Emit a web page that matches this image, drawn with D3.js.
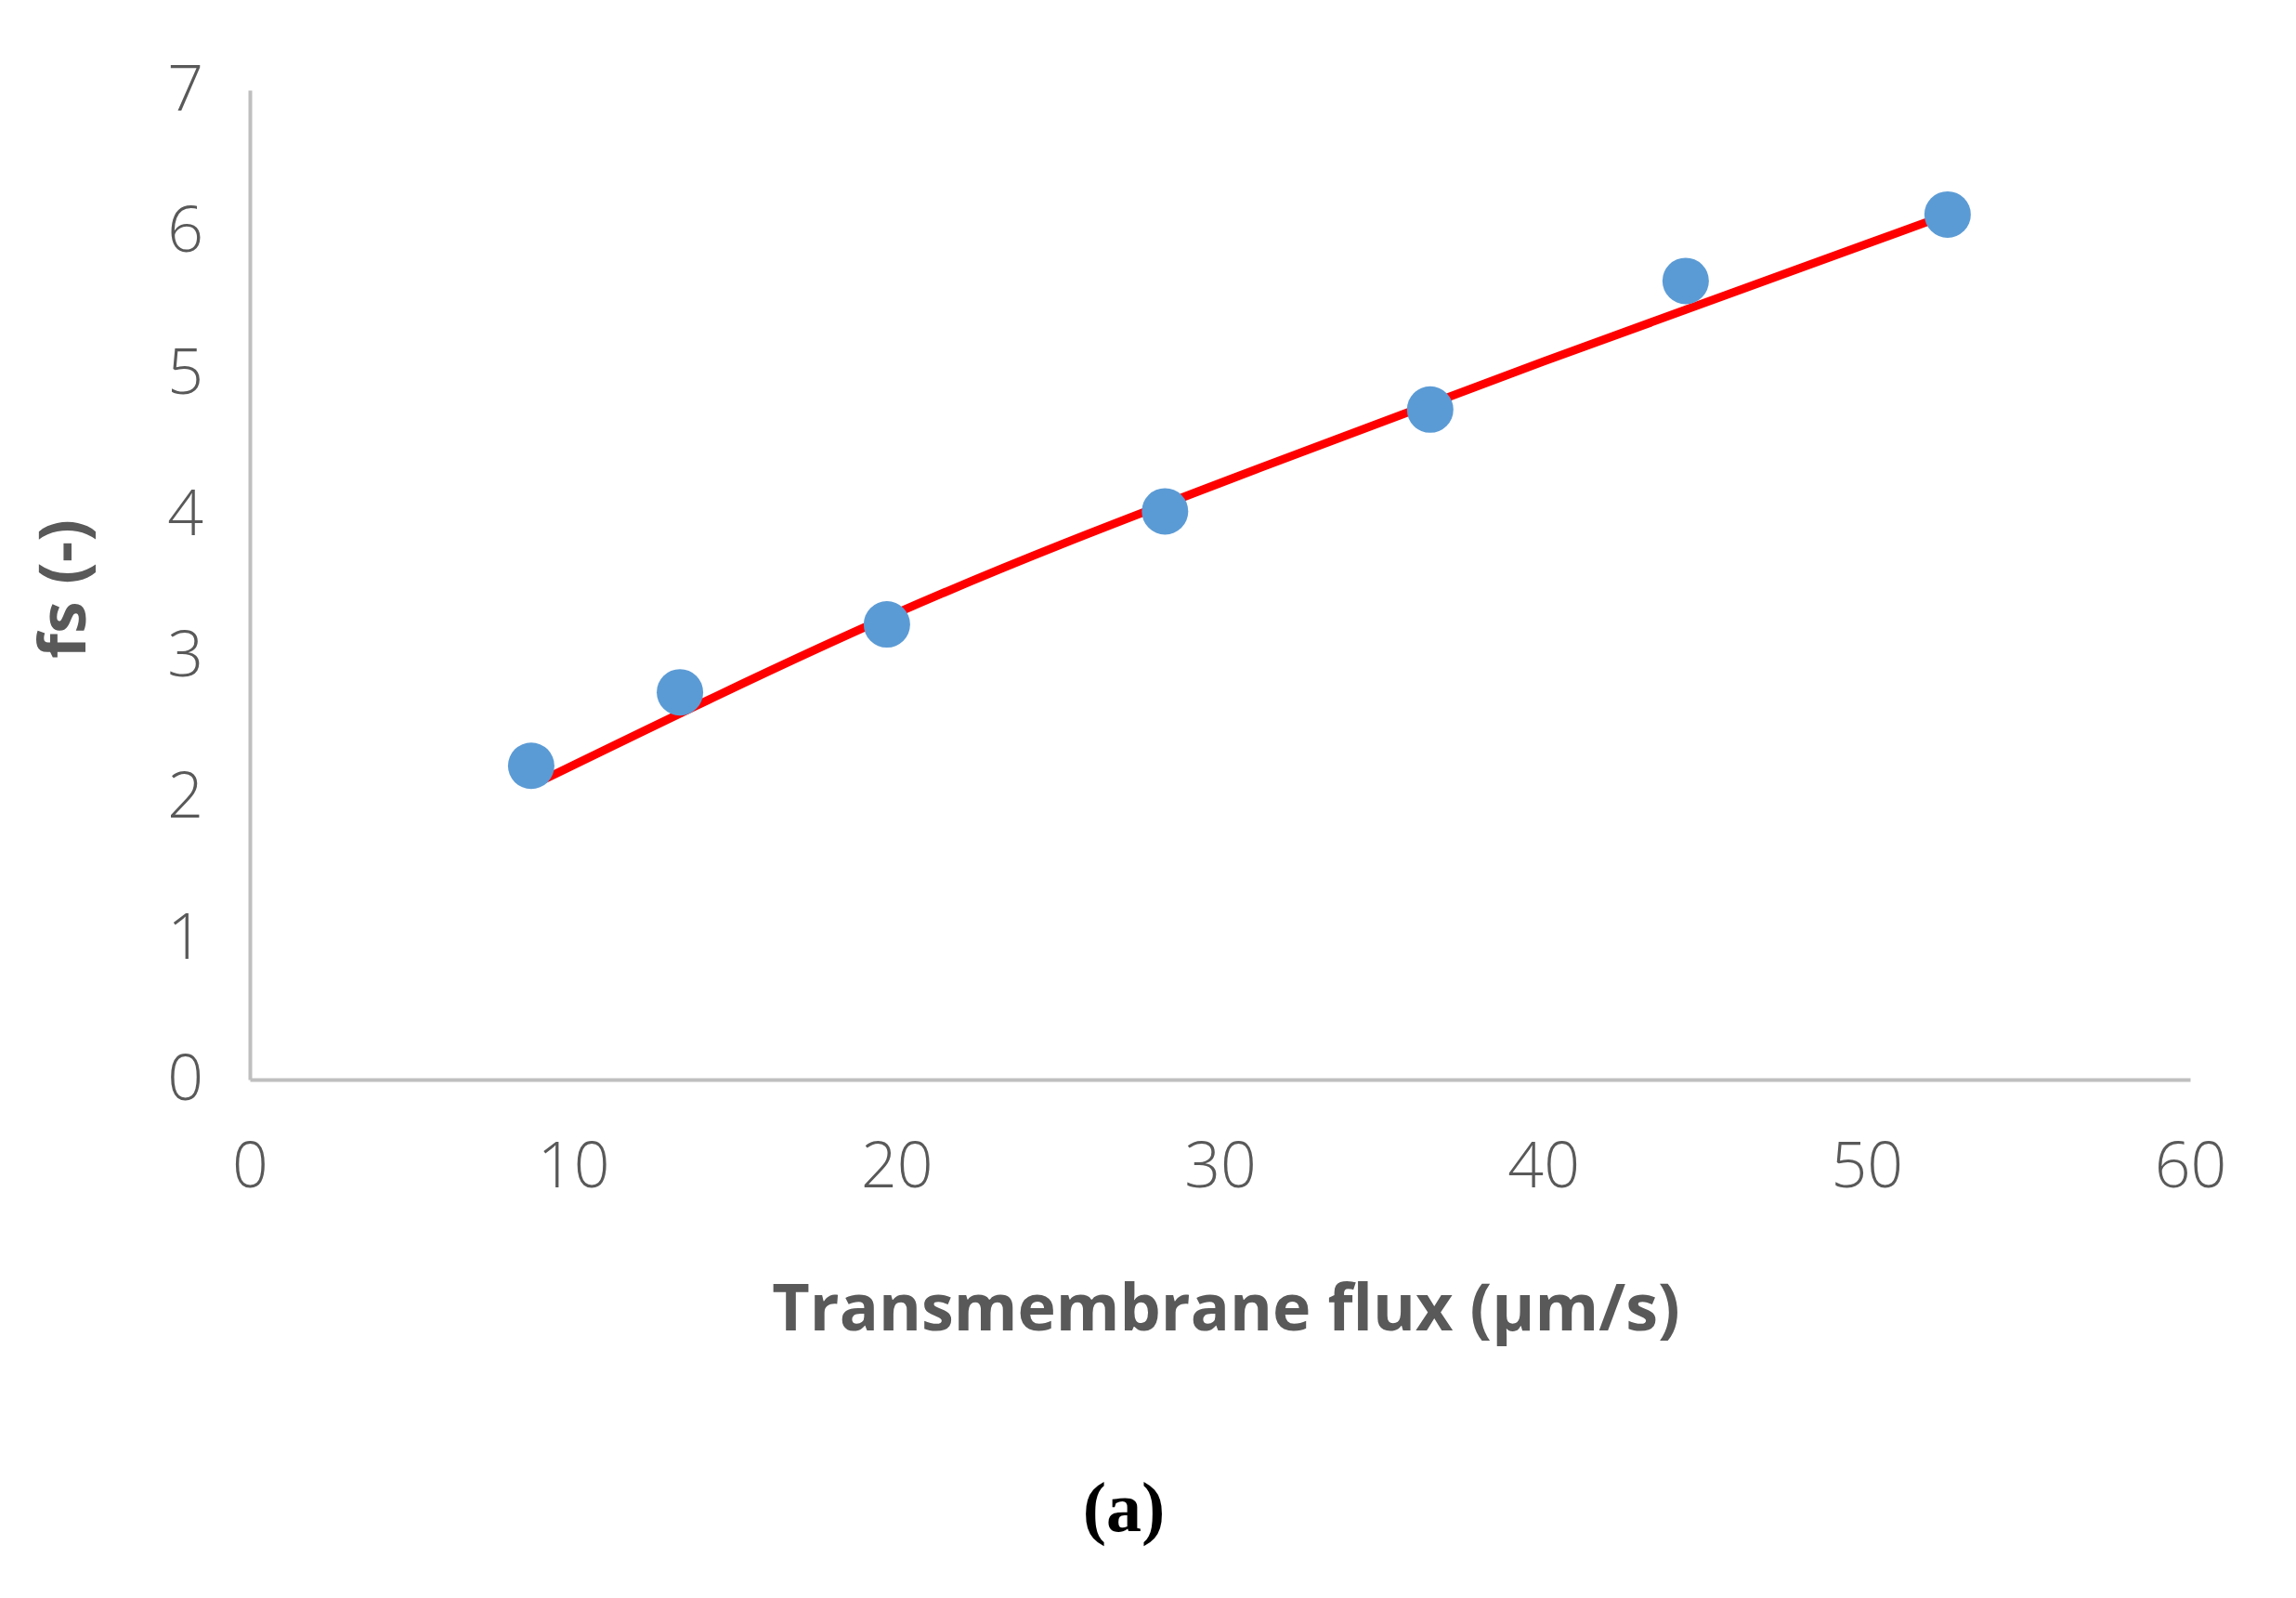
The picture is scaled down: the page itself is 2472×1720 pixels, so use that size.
<!DOCTYPE html>
<html>
<head>
<meta charset="utf-8">
<script src="https://cdn.jsdelivr.net/npm/d3@7"></script>
<style>
  body { margin: 0; background: #fff; }
</style>
</head>
<body>
<div id="main"></div>
<script>
// measured points
const fluxPts = [8.7, 13.3, 19.7, 28.3, 36.5, 44.4, 52.5]
const fsPts = [2.22, 2.74, 3.22, 4.02, 4.74, 5.65, 6.12]
// fitted model curve
const fluxFit = [8.8, 20, 30, 40, 52.5]
const fsFit = [2.09, 3.3, 4.22, 5.08, 6.12]
const xTicks = [0, 10, 20, 30, 40, 50, 60]
const yTicks = [0, 1, 2, 3, 4, 5, 6, 7]

const W = 2472, H = 1720
const svg = d3.select("#main").append("svg")
    .attr("width", W).attr("height", H)

const scX = d3.scaleLinear().domain([0, 60]).range([269, 2358])
const scY = d3.scaleLinear().domain([0, 7]).range([1162, 97])

const grey = "#595959"
const tickFont = "'Open Sans', sans-serif"

// axes
const yAxis = svg.append("g")
    .attr("transform", `translate(${scX(0)},0)`)
    .call(d3.axisLeft(scY).tickValues(yTicks).tickFormat(d3.format("d")).tickSize(0).tickPadding(50))
const xAxis = svg.append("g")
    .attr("transform", `translate(0,${scY(0)})`)
    .call(d3.axisBottom(scX).tickValues(xTicks).tickSize(0).tickPadding(68))
;[yAxis, xAxis].forEach(a => {
    a.select(".domain").attr("stroke", "#bfbfbf").attr("stroke-width", 4)
    a.selectAll("text").attr("fill", grey)
        .style("font-family", tickFont).style("font-size", "68px").style("font-weight", 300)
})

// fit curve
const makeLine = d3.line()
    .x((d, i) => scX(fluxFit[i]))
    .y(d => scY(d))
    .curve(d3.curveNatural)
svg.append("path")
    .attr("d", makeLine(fsFit))
    .attr("fill", "none")
    .attr("stroke", "#ff0000")
    .attr("stroke-width", 9)

// points
svg.append("g").selectAll("circle").data(fsPts).enter()
    .append("circle")
    .attr("cx", (d, i) => scX(fluxPts[i]))
    .attr("cy", d => scY(d))
    .attr("r", 25)
    .attr("fill", "#5b9bd5")

// titles
svg.append("text")
    .attr("x", 1320).attr("y", 1432)
    .attr("text-anchor", "middle")
    .attr("fill", grey)
    .style("font-family", "'Open Sans', sans-serif")
    .style("font-size", "70px").style("font-weight", "bold")
    .text("Transmembrane flux (μm/s)")

svg.append("text")
    .attr("transform", "translate(92,634) rotate(-90)")
    .attr("text-anchor", "middle")
    .attr("fill", grey)
    .style("font-family", "'Open Sans', sans-serif")
    .style("font-size", "70px").style("font-weight", "bold")
    .text("fs (-)")

svg.append("text")
    .attr("x", 1210).attr("y", 1648)
    .attr("text-anchor", "middle")
    .attr("fill", "#000")
    .style("font-family", "'Liberation Serif', serif")
    .style("font-size", "76px").style("font-weight", "bold")
    .text("(a)")
</script>
</body>
</html>
